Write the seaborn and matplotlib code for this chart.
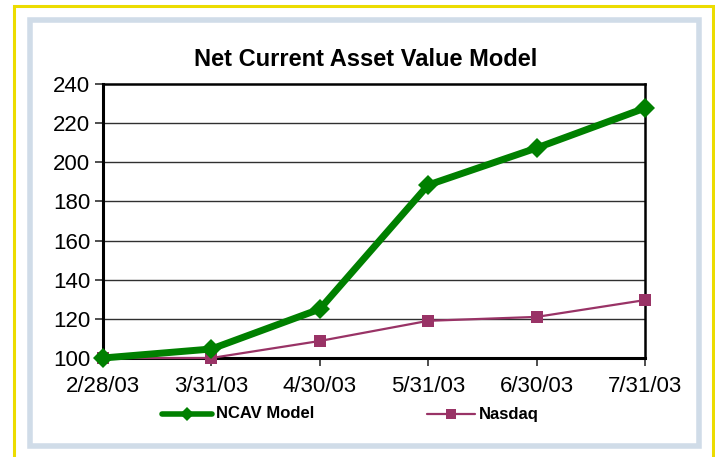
import matplotlib
matplotlib.use("Agg")
import matplotlib.pyplot as plt
import seaborn as sns
import pandas as pd
from matplotlib.patches import Rectangle
from matplotlib.lines import Line2D

dates = ["2/28/03", "3/31/03", "4/30/03", "5/31/03", "6/30/03", "7/31/03"]
ncav = [100, 104.6, 125, 188.4, 207.3, 227.7]
nasdaq = [100, 100, 108.7, 119, 121, 129.6]
yticks = [100, 120, 140, 160, 180, 200, 220, 240]

sns.set_theme(style="white")
plt.rcParams["font.family"] = ["Liberation Sans", "DejaVu Sans"]

W, H = 715, 457
fig = plt.figure(figsize=(W / 100, H / 100), dpi=100)
fig.patch.set_facecolor("white")

def fx(x):
    return x / W

def fy(y):
    return 1 - y / H

# outer yellow border
fig.add_artist(Rectangle((fx(13.5), fy(470)), fx(713) - fx(13.5), fy(6) - fy(470),
                         transform=fig.transFigure, fill=False, edgecolor="#ecdc00", lw=2.2))
# inner light blue border
fig.add_artist(Rectangle((fx(29.5), fy(446)), fx(699) - fx(29.5), fy(19.5) - fy(446),
                         transform=fig.transFigure, fill=False, edgecolor="#d0dce8", lw=4.0))

ax = fig.add_axes([fx(103), fy(358), fx(645) - fx(103), fy(84) - fy(358)])

df_n = pd.DataFrame({"date": dates, "value": ncav})
df_q = pd.DataFrame({"date": dates, "value": nasdaq})

for y in yticks[1:-1]:
    ax.axhline(y, color="#303030", lw=1.0, zorder=0)

sns.lineplot(data=df_q, x="date", y="value", ax=ax, color="#993366", lw=1.6,
             marker="s", markersize=8, markeredgewidth=0, sort=False, zorder=3,
             clip_on=False)
sns.lineplot(data=df_n, x="date", y="value", ax=ax, color="#008000", lw=5,
             marker="D", markersize=10, markeredgewidth=0, sort=False, zorder=4,
             clip_on=False)

ax.set_xlim(0, 5)
ax.set_ylim(100, 240)
ax.set_yticks(yticks)
ax.set_xticks(range(len(dates)))
ax.set_xticklabels(dates)
ax.set_xlabel("")
ax.set_ylabel("")
for side in ["top", "right"]:
    ax.spines[side].set_color("black")
    ax.spines[side].set_linewidth(1.8)
for side in ["left", "bottom"]:
    ax.spines[side].set_color("black")
    ax.spines[side].set_linewidth(2.2)
ax.tick_params(axis="both", which="major", length=6, width=1.2, color="#303030",
               labelsize=16, labelcolor="black", direction="out", bottom=True, left=True)
ax.tick_params(axis="x", pad=7)
ax.tick_params(axis="y", pad=3)
ax.set_facecolor("white")

fig.text(fx(366), fy(60), "Net Current Asset Value Model", ha="center", va="center",
         fontsize=17, fontweight="bold", color="black")

# legend drawn in figure coordinates
ly = fy(414)
fig.add_artist(Line2D([fx(162), fx(212)], [ly, ly], transform=fig.transFigure,
                      color="#008000", lw=4))
fig.add_artist(Line2D([fx(187)], [ly], transform=fig.transFigure, color="#008000",
                      marker="D", markersize=7, markeredgewidth=0, lw=0))
fig.text(fx(216), ly, "NCAV Model", ha="left", va="center", fontsize=12,
         fontweight="bold", color="black")
fig.add_artist(Line2D([fx(427), fx(475)], [ly, ly], transform=fig.transFigure,
                      color="#993366", lw=1.6))
fig.add_artist(Line2D([fx(451)], [ly], transform=fig.transFigure, color="#993366",
                      marker="s", markersize=7, markeredgewidth=0, lw=0))
fig.text(fx(479), ly, "Nasdaq", ha="left", va="center", fontsize=12,
         fontweight="bold", color="black")

fig.savefig("out.png", dpi=100, facecolor="white")
